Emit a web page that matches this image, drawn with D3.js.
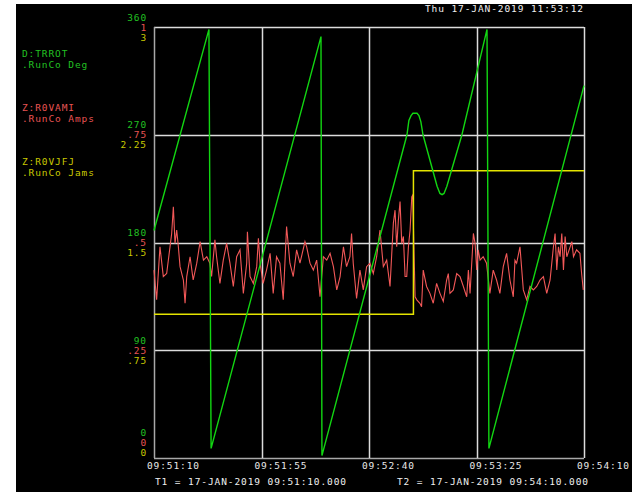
<!DOCTYPE html>
<html>
<head>
<meta charset="utf-8">
<script src="https://cdn.jsdelivr.net/npm/d3@7"></script>
<style>
  html, body { margin: 0; padding: 0; background: #fff; }
  svg { display: block; }
  text { font-family: "DejaVu Sans Mono", "Liberation Mono", monospace; font-size: 9.5px; letter-spacing: 0.9px; }
</style>
</head>
<body>
<svg id="chart" width="639" height="492"></svg>
<script>
// Trend window
const startTime = "2019-01-17T09:51:10";
const endTime = "2019-01-17T09:54:10";
const headerText = "Thu 17-JAN-2019 11:53:12";
const footerT1 = "T1 = 17-JAN-2019 09:51:10.000";
const footerT2 = "T2 = 17-JAN-2019 09:54:10.000";

// Series labels
const seriesNames = ["D:TRROT", "Z:R0VAMI", "Z:R0VJFJ"];
const seriesUnits = [".RunCo  Deg", ".RunCo  Amps", ".RunCo  Jams"];

// Y tick labels for each series (top to bottom)
const degTicks = ["360", "270", "180", "90", "0"];
const ampTicks = ["1", ".75", ".5", ".25", "0"];
const jamTicks = ["3", "2.25", "1.5", ".75", "0"];

// D:TRROT rotation angle (seconds after T1, degrees)
const rotSeconds = [0, 23.0, 23.9, 69.9, 70.3, 105.9, 106.7, 107.6, 108.4, 110.1, 110.9, 111.7, 112.6,
  118.5, 119.7, 120.6, 121.4, 122.6, 128.9, 139.4, 140.2, 180];
const rotDeg = [190, 358, 8, 352, 2, 270, 282, 286, 288, 288, 286, 281, 270,
  227, 221, 220, 221, 227, 270, 358, 8, 311];

// Z:R0VAMI current (seconds after T1, amps)
const ampSeconds = [0, 1.1, 2.5, 3.9, 5.3, 6.7, 7.4, 8.1, 8.8, 9.5, 10.2, 10.9, 12.3, 13.0, 13.7, 15.1,
  16.4, 17.9, 19.3, 20.7, 22.1, 23.4, 24.1, 25.5, 26.2, 27.6, 29.0, 30.4, 31.8, 33.2, 34.6, 36.0,
  37.4, 38.8, 39.1, 40.2, 41.6, 43.0, 43.7, 44.4, 45.7, 47.1, 48.6, 49.9, 51.3, 52.7, 54.1, 55.5,
  56.9, 58.3, 59.7, 61.1, 63.2, 63.9, 65.3, 66.7, 68.1, 69.5, 70.9, 72.3, 73.7, 75.1, 76.5, 77.9,
  79.3, 80.6, 82.0, 82.7, 83.4, 84.8, 86.2, 87.6, 89.0, 90.4, 91.8, 93.2, 94.6, 96.0, 97.4, 98.8,
  100.2, 100.9, 101.6, 102.3, 103.0, 103.7, 104.4, 105.1, 105.8, 106.5, 107.2, 107.9, 108.3, 108.8,
  109.3, 110.0, 111.3, 112.0, 112.7, 114.1, 115.5, 116.9, 118.3, 119.7, 121.1, 122.5, 123.2, 123.9,
  125.3, 126.7, 128.1, 129.5, 130.9, 131.6, 132.3, 133.7, 134.4, 135.1, 135.7, 136.5, 137.8, 139.2,
  140.6, 142.0, 143.4, 144.8, 146.2, 147.6, 149.0, 150.4, 151.1, 151.8, 153.2, 154.6, 156.0, 157.4,
  158.8, 160.2, 161.6, 163.0, 164.4, 165.8, 167.2, 167.9, 168.6, 169.3, 170.0, 170.7, 171.4, 172.1,
  172.8, 174.2, 174.9, 175.6, 176.9, 178.3, 179.0, 179.7];
const ampValues = [0.436, 0.367, 0.490, 0.421, 0.428, 0.490, 0.521, 0.583, 0.498, 0.529, 0.490, 0.444,
  0.413, 0.359, 0.421, 0.467, 0.413, 0.452, 0.502, 0.459, 0.467, 0.452, 0.421, 0.506, 0.467, 0.405,
  0.459, 0.498, 0.452, 0.398, 0.467, 0.483, 0.382, 0.452, 0.525, 0.421, 0.405, 0.444, 0.510, 0.452,
  0.405, 0.436, 0.475, 0.382, 0.467, 0.452, 0.367, 0.537, 0.452, 0.421, 0.483, 0.452, 0.502, 0.490,
  0.452, 0.436, 0.459, 0.374, 0.467, 0.459, 0.475, 0.444, 0.390, 0.421, 0.490, 0.444, 0.467, 0.521,
  0.452, 0.370, 0.436, 0.390, 0.444, 0.452, 0.428, 0.467, 0.529, 0.444, 0.459, 0.398,
  0.545, 0.575, 0.490, 0.552, 0.595, 0.498, 0.514, 0.421, 0.421, 0.490, 0.529, 0.606, 0.610, 0.490,
  0.374, 0.367, 0.359, 0.351, 0.436, 0.398, 0.382, 0.359, 0.405, 0.382, 0.363, 0.413, 0.428, 0.382,
  0.390, 0.428, 0.421, 0.398, 0.374, 0.436, 0.382, 0.521, 0.498, 0.436, 0.483, 0.459, 0.467, 0.452,
  0.382, 0.436, 0.413, 0.382, 0.444, 0.475, 0.413, 0.374, 0.459, 0.452, 0.490, 0.390, 0.367, 0.398,
  0.390, 0.398, 0.413, 0.421, 0.382, 0.413, 0.490, 0.521, 0.436, 0.490, 0.467, 0.521, 0.436, 0.514,
  0.467, 0.490, 0.502, 0.467, 0.483, 0.475, 0.428, 0.390];

// Z:R0VJFJ jam count (seconds after T1, jams)
const jamSeconds = [0, 108.6, 108.6, 180];
const jamValues = [1, 1, 2, 2];

const colors = { deg: "#12d612", amp: "#f25858", jam: "#e4e400",
  degText: "#22c022", ampText: "#e85454", jamText: "#c8c800" };

const svg = d3.select("#chart");
const W = 639, H = 492;
const plot = { left: 154, right: 584, top: 27, bottom: 458 };

svg.append("rect").attr("x", 0).attr("y", 0).attr("width", W).attr("height", H).attr("fill", "#fff");
svg.append("rect").attr("x", 16).attr("y", 4).attr("width", 616).attr("height", H - 4).attr("fill", "#000");

const t0 = new Date(startTime), t1 = new Date(endTime);
const toDate = s => new Date(t0.getTime() + s * 1000);

const x = d3.scaleTime().domain([t0, t1]).range([plot.left, plot.right]);
const yDeg = d3.scaleLinear().domain([0, 360]).range([plot.bottom, plot.top]);
const yAmp = d3.scaleLinear().domain([0, 1]).range([plot.bottom, plot.top]);
const yJam = d3.scaleLinear().domain([0, 3]).range([plot.bottom, plot.top]);

const tickTimes = d3.range(0, 181, 45).map(toDate);
const fmt = d3.timeFormat("%H:%M:%S");
const ampTickVals = ampTicks.map(Number);

// Grid
const grid = svg.append("g");
grid.selectAll("line.h").data(ampTickVals).join("line")
  .attr("x1", plot.left).attr("x2", plot.right)
  .attr("y1", d => Math.round(yAmp(d)) + 0.5).attr("y2", d => Math.round(yAmp(d)) + 0.5)
  .attr("stroke", d => d === 0 ? "#a8a8a8" : "#dcdcdc").attr("stroke-width", 1.5);
grid.selectAll("line.v").data(tickTimes).join("line")
  .attr("y1", plot.top).attr("y2", plot.bottom)
  .attr("x1", d => Math.round(x(d)) + 0.5).attr("x2", d => Math.round(x(d)) + 0.5)
  .attr("stroke", (d, i) => i === 0 ? "#a8a8a8" : "#dcdcdc").attr("stroke-width", 1.5);

// Series lines
const g = svg.append("g");
const jamData = jamSeconds.map((s, i) => [toDate(s), jamValues[i]]);
const ampData = ampSeconds.map((s, i) => [toDate(s), ampValues[i]]);
const rotData = rotSeconds.map((s, i) => [toDate(s), rotDeg[i]]);

g.append("path").datum(ampData)
  .attr("d", d3.line().x(d => x(d[0])).y(d => yAmp(d[1])))
  .attr("fill", "none").attr("stroke", colors.amp).attr("stroke-width", 1.1);
g.append("path").datum(jamData)
  .attr("d", d3.line().x(d => x(d[0])).y(d => yJam(d[1])))
  .attr("fill", "none").attr("stroke", colors.jam).attr("stroke-width", 1.5);
g.append("path").datum(rotData)
  .attr("d", d3.line().x(d => x(d[0])).y(d => yDeg(d[1])))
  .attr("fill", "none").attr("stroke", colors.deg).attr("stroke-width", 1.4);

// Y tick labels: three stacked per gridline
const yl = svg.append("g").attr("text-anchor", "end");
ampTickVals.forEach((v, i) => {
  const cy = yAmp(v) - (v === 0 ? 16 : 0);
  yl.append("text").attr("x", 147).attr("y", cy - 10 + 3.5).attr("fill", colors.degText).text(degTicks[i]);
  yl.append("text").attr("x", 147).attr("y", cy + 3.5).attr("fill", colors.ampText).text(ampTicks[i]);
  yl.append("text").attr("x", 147).attr("y", cy + 10 + 3.5).attr("fill", colors.jamText).text(jamTicks[i]);
});

// X tick labels
svg.append("g").selectAll("text").data(tickTimes).join("text")
  .attr("x", d => x(d) - 7).attr("y", 469)
  .attr("fill", "#e8e8e8").text(d => fmt(d));

// Legend
const leg = svg.append("g");
const legY = [57, 111, 165];
const legCol = [colors.degText, colors.ampText, colors.jamText];
seriesNames.forEach((n, i) => {
  leg.append("text").attr("x", 22).attr("y", legY[i]).attr("fill", legCol[i]).text(n);
  leg.append("text").attr("x", 22).attr("y", legY[i] + 11).attr("fill", legCol[i]).text(seriesUnits[i]);
});

// Header and footer
svg.append("text").attr("x", 425).attr("y", 12).attr("fill", "#f0f0f0").text(headerText);
svg.append("text").attr("x", 155).attr("y", 485).attr("fill", "#f0f0f0").text(footerT1);
svg.append("text").attr("x", 397).attr("y", 485).attr("fill", "#f0f0f0").text(footerT2);
</script>
</body>
</html>
